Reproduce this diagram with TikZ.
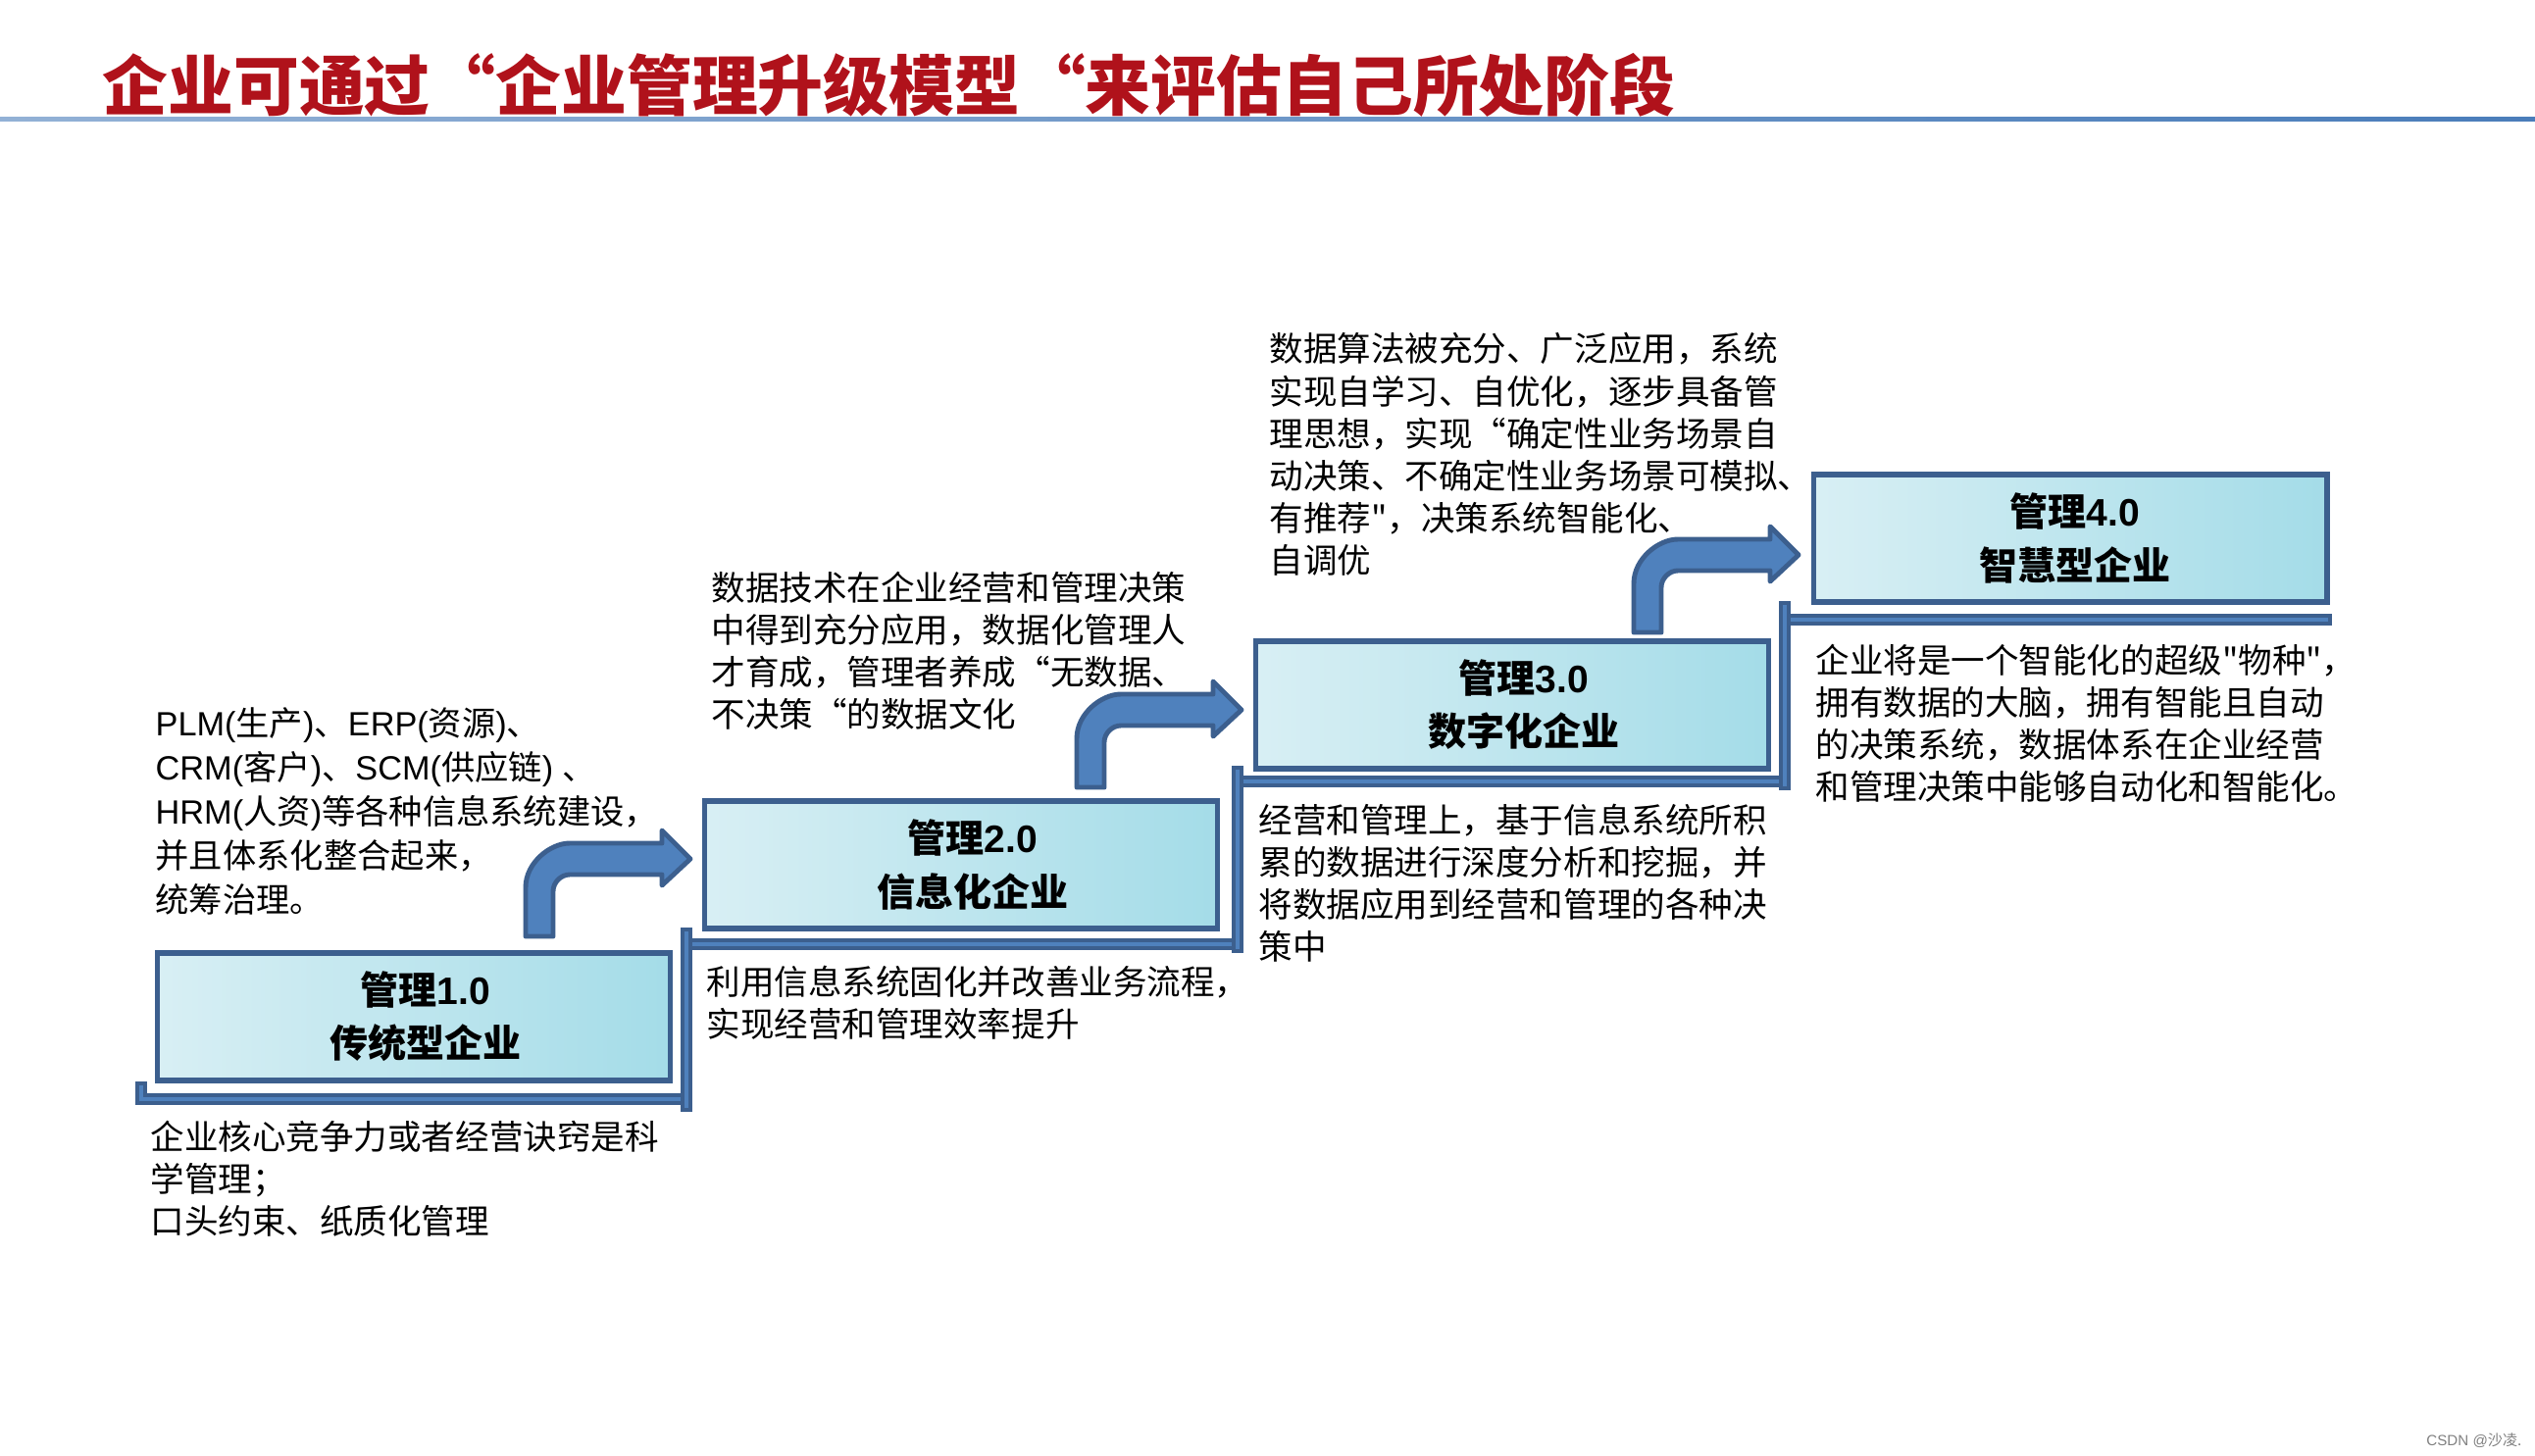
\documentclass[tikz,border=0pt]{standalone}
\usepackage{fontspec}
\setmainfont{Noto Sans CJK SC}
\newfontfamily\arial{Liberation Sans}
% straight double quote, kept away from the tex-text mapping
\newcommand\sq{\XeTeXglyph\XeTeXcharglyph"22\relax}

\definecolor{titlered}{HTML}{B0121B}
\definecolor{edgeblue}{HTML}{3C5F8E}
\definecolor{midblue}{HTML}{4F81BD}
\definecolor{paleleft}{HTML}{D8EFF4}
\definecolor{paleright}{HTML}{A4DCE8}
\definecolor{lineblue}{HTML}{4A7DBA}

\begin{document}
\begin{tikzpicture}[x=0.01cm,y=-0.01cm,
  stage/.style={draw=edgeblue,line width=1.6pt,left color=paleleft,right color=paleright,
    minimum width=5.23cm,minimum height=1.30cm,inner sep=0pt,align=center,
    font=\bfseries\fontsize{11.1}{15.4}\selectfont},
  note/.style={anchor=north west,inner sep=0pt,align=left,font=\fontsize{9.82}{12.23}\selectfont},
  stair/.style={draw=edgeblue,line width=1.1pt,double=midblue,double distance=1.4pt,line cap=rect},
  bent/.style={fill=midblue,draw=edgeblue,line width=1.4pt,line join=round}]
\useasboundingbox (0,0) rectangle (2585,1485);

% heading and rule
\node[anchor=west,inner sep=0pt,text=titlered,font=\bfseries\fontsize{19}{22}\selectfont] (title) at (104,87)
  {企业可通过“企业管理升级模型“来评估自己所处阶段};
\shade[left color=lineblue!60,right color=lineblue] (0,120) rectangle (2585,124);

% the four stages
\node[stage] (m1) at (422,1037) {\hspace*{0.24cm}管理{\arial 1.0}\\\hspace*{0.24cm}传统型企业};
\node[stage] (m2) at (980,882) {\hspace*{0.24cm}管理{\arial 2.0}\\\hspace*{0.24cm}信息化企业};
\node[stage] (m3) at (1542,719) {\hspace*{0.24cm}管理{\arial 3.0}\\\hspace*{0.24cm}数字化企业};
\node[stage] (m4) at (2111,549) {\hspace*{0.1cm}管理{\arial 4.0}\\\hspace*{0.1cm}智慧型企业};

% staircase under the boxes
\draw[stair] (144,1109) -- (144,1121) -- (700,1121);
\draw[stair] (700,963) -- (1262,963);
\draw[stair] (1262,797) -- (1820,797);
\draw[stair] (1820,632) -- (2372,632);
\draw[stair] (700,1128) -- (700,952);
\draw[stair] (1262,966) -- (1262,787);
\draw[stair] (1820,800) -- (1820,619);

% bent arrows, one per step
\foreach \dx/\dy in {0/0, 562/-152, 1130/-310}
  \draw[bent,shift={(\dx,\dy)}] (536,955) -- (536,905) .. controls (536,880) and (561,860) .. (581,860)
    -- (675,860) -- (675,847) -- (704,876) -- (675,903) -- (675,892) -- (581,892)
    .. controls (572,892) and (564,900) .. (564,909) -- (564,955) -- cycle;

% texts above and below
\node[note,font=\fontsize{9.75}{12.8}\selectfont] (n1) at (158,721)
  {{\arial PLM(}生产{\arial )}、{\arial ERP(}资源{\arial )}、\\
   {\arial CRM(}客户{\arial )}、{\arial SCM(}供应链{\arial ) }、\\
   {\arial HRM(}人资{\arial )}等各种信息系统建设，\\
   并且体系化整合起来，\\
   统筹治理。};
\node[note] (n1b) at (153,1142) {企业核心竞争力或者经营诀窍是科\\学管理；\\口头约束、纸质化管理};
\node[note] (n2) at (725,582)
  {数据技术在企业经营和管理决策\\中得到充分应用，数据化管理人\\才育成，管理者养成“无数据、\\不决策“的数据文化};
\node[note] (n2b) at (720,984) {利用信息系统固化并改善业务流程，\\实现经营和管理效率提升};
\node[note] (n3) at (1294,339)
  {数据算法被充分、广泛应用，系统\\实现自学习、自优化，逐步具备管\\理思想，实现“确定性业务场景自\\动决策、不确定性业务场景可模拟、\\有推荐\sq，决策系统智能化、\\自调优};
\node[note] (n3b) at (1283,819)
  {经营和管理上，基于信息系统所积\\累的数据进行深度分析和挖掘，并\\将数据应用到经营和管理的各种决\\策中};
\node[note] (n4b) at (1851,656)
  {企业将是一个智能化的超级\sq 物种\sq，\\拥有数据的大脑，拥有智能且自动\\的决策系统，数据体系在企业经营\\和管理决策中能够自动化和智能化。};

% watermark
\node[anchor=east,inner sep=0pt,text=gray,font=\fontsize{4.3}{5}\selectfont] (wm) at (2572,1469)
  {{\arial CSDN @}沙凌.};
\end{tikzpicture}
\end{document}
